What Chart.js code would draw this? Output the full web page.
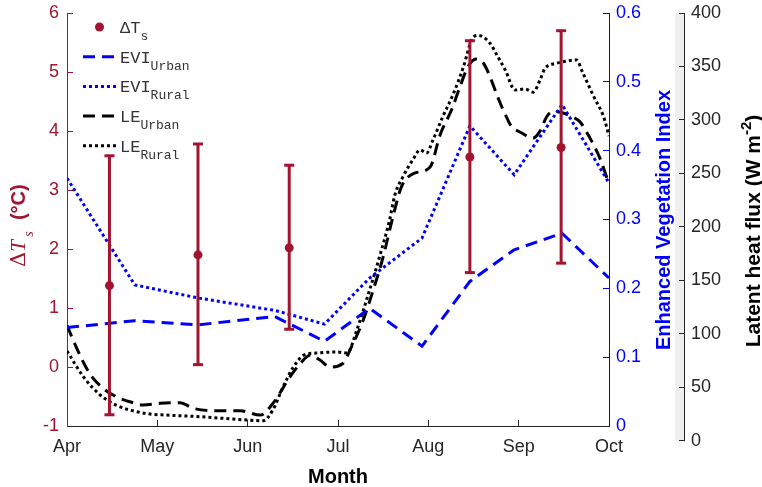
<!DOCTYPE html>
<html>
<head>
<meta charset="utf-8">
<script src="https://cdn.jsdelivr.net/npm/chart.js@4.4.1/dist/chart.umd.min.js"></script>
<style>
  html, body { margin: 0; padding: 0; background: #fff; }
  canvas { display: block; }
</style>
</head>
<body>
<canvas id="chart" width="762" height="487"></canvas>
<script>
// ---- data (x in months since 1 Apr) ----
const MONTHS = ['Apr', 'May', 'Jun', 'Jul', 'Aug', 'Sep', 'Oct'];

// surface temperature difference, mean and error range (°C)
const DT_X    = [0.47, 1.45, 2.46, 4.46, 5.47];
const DT_MEAN = [1.38, 1.90, 2.02, 3.56, 3.72];
const DT_LOW  = [-0.81, 0.04, 0.64, 1.60, 1.76];
const DT_HIGH = [3.58, 3.78, 3.42, 5.53, 5.70];

// enhanced vegetation index
const EVI_X     = [0, 0.75, 1.45, 2.3, 2.85, 3.35, 3.93, 4.46, 4.95, 5.48, 6];
const EVI_URBAN = [0.143, 0.153, 0.147, 0.159, 0.123, 0.171, 0.116, 0.21, 0.256, 0.28, 0.215];
const EVI_RURAL = [0.36, 0.205, 0.186, 0.168, 0.148, 0.215, 0.273, 0.436, 0.365, 0.467, 0.353];

// latent heat flux (W m-2)
const LE_URBAN_X = [0, 0.10, 0.25, 0.40, 0.55, 0.73, 0.84, 1.03, 1.25, 1.40, 1.66, 1.92, 2.14, 2.28, 2.47,
  2.58, 2.69, 2.80, 2.91, 3.05, 3.15, 3.28, 3.39, 3.50, 3.61, 3.70, 3.84, 4.02, 4.13, 4.26,
  4.35, 4.44, 4.53, 4.61, 4.68, 4.77, 4.88, 4.92, 5.03, 5.16, 5.24, 5.31, 5.38, 5.51, 5.59,
  5.68, 5.79, 5.90, 6.0];
const LE_URBAN = [108, 88, 63, 49, 41, 35.6, 33.4, 35, 35.6, 30.3, 28, 28, 24, 35, 60,
  72, 80, 75.5, 69, 72, 88, 113, 141, 172, 210, 237, 250, 256, 286, 310,
  331, 350, 357, 353, 341, 321, 300, 294, 288, 283, 290, 303, 308, 306, 303,
  298, 283, 264, 240];
const LE_RURAL_X = [0, 0.18, 0.365, 0.55, 0.73, 0.92, 1.10, 1.47, 1.84, 2.17, 2.28, 2.39, 2.50, 2.62, 2.76,
  2.99, 3.10, 3.21, 3.35, 3.46, 3.57, 3.63, 3.72, 3.83, 3.91, 3.98, 4.05, 4.16, 4.28, 4.39,
  4.48, 4.55, 4.68, 4.77, 4.85, 4.96, 5.07, 5.16, 5.24, 5.29, 5.42, 5.53, 5.64, 5.71, 5.83,
  5.94, 6.0];
const LE_RURAL = [84, 60, 43, 33, 28, 25, 24, 22.5, 20.3, 18.7, 29, 50, 68, 80, 82,
  83, 82, 104, 141, 172, 206, 230, 247, 263, 272, 269, 281, 303, 325, 350,
  375, 379, 372, 359, 347, 328, 329, 326, 338, 348, 353, 355, 356, 344, 322,
  303, 285];

const DT_TICKS  = [-1, 0, 1, 2, 3, 4, 5, 6];
const EVI_TICKS = [0, 0.1, 0.2, 0.3, 0.4, 0.5, 0.6];
const LE_TICKS  = [0, 50, 100, 150, 200, 250, 300, 350, 400];
const LE_AXIS_MIN = 13.8; // LE axis runs on below the plot box down to 0

const RED = '#A2142F';
const BLUE = '#0000FF';
const INK = '#262626';
const SANS = "'Liberation Sans', Arial, Helvetica, sans-serif";
const MONO = "'Liberation Mono', 'Courier New', monospace";

Chart.defaults.font.family = SANS;
Chart.defaults.font.size = 18;

const pts = (xs, ys) => xs.map((x, i) => ({ x, y: ys[i] }));

// ---- datasets ----
const errorBars = DT_X.map((x, i) => ({
  type: 'line', yAxisID: 'yT', order: 0,
  data: [{ x, y: DT_LOW[i] }, { x, y: DT_HIGH[i] }],
  borderColor: RED, borderWidth: 3, pointRadius: 0
}));

const datasets = [
  ...errorBars,
  { type: 'scatter', label: 'caps', yAxisID: 'yT', order: 0,
    data: [...pts(DT_X, DT_LOW), ...pts(DT_X, DT_HIGH)],
    pointStyle: 'line', pointRadius: 5, borderColor: RED, borderWidth: 3 },
  { type: 'scatter', label: 'dT', yAxisID: 'yT', order: 0,
    data: pts(DT_X, DT_MEAN),
    pointStyle: 'circle', pointRadius: 4.5, backgroundColor: RED, borderWidth: 0 },
  { type: 'line', label: 'EVI_Urban', yAxisID: 'yEVI', order: 1,
    data: pts(EVI_X, EVI_URBAN),
    borderColor: BLUE, borderWidth: 3, borderDash: [12, 7], pointRadius: 0, tension: 0 },
  { type: 'line', label: 'EVI_Rural', yAxisID: 'yEVI', order: 1,
    data: pts(EVI_X, EVI_RURAL),
    borderColor: BLUE, borderWidth: 3, borderDash: [3, 3], pointRadius: 0, tension: 0 },
  { type: 'line', label: 'LE_Urban', yAxisID: 'yLE', order: 1,
    data: pts(LE_URBAN_X, LE_URBAN),
    borderColor: '#000', borderWidth: 3, borderDash: [12, 7], pointRadius: 0, cubicInterpolationMode: 'monotone' },
  { type: 'line', label: 'LE_Rural', yAxisID: 'yLE', order: 1,
    data: pts(LE_RURAL_X, LE_RURAL),
    borderColor: '#000', borderWidth: 3, borderDash: [3, 3], pointRadius: 0, cubicInterpolationMode: 'monotone' }
];

// ---- drawing helpers ----
function richText(ctx, parts, x, y, rot, align) {
  ctx.save();
  ctx.translate(x, y);
  ctx.rotate(rot);
  ctx.textBaseline = 'alphabetic';
  ctx.textAlign = 'left';
  let total = 0;
  parts.forEach(p => { ctx.font = p.font; p.w = ctx.measureText(p.text).width; total += p.w; });
  let cx = align === 'center' ? -total / 2 : 0;
  parts.forEach(p => {
    ctx.font = p.font;
    ctx.fillStyle = p.color;
    ctx.fillText(p.text, cx, p.dy || 0);
    cx += p.w;
  });
  ctx.restore();
}

// no extra room for half tick labels: the plot box is set by the layout padding
const noPad = s => { s.paddingTop = 0; s.paddingBottom = 0; s.paddingLeft = 0; s.paddingRight = 0; };

const decor = {
  id: 'decor',
  beforeDraw(chart) {
    const { ctx } = chart;
    const le = chart.scales.yLE;
    const top = le.getPixelForValue(LE_TICKS[LE_TICKS.length - 1]);
    const bot = le.getPixelForValue(LE_TICKS[0]);
    ctx.save();
    ctx.fillStyle = '#efefef';
    ctx.fillRect(le.left - 9, top, 9, bot - top);
    ctx.strokeStyle = INK;
    ctx.lineWidth = 1;
    ctx.beginPath();
    ctx.moveTo(le.left + 0.5, top);
    ctx.lineTo(le.left + 0.5, bot + 0.5);
    ctx.stroke();
    ctx.restore();
  },
  afterDraw(chart) {
    const { ctx, chartArea: ca } = chart;
    const evi = chart.scales.yEVI;
    const le = chart.scales.yLE;

    // axis titles
    richText(ctx, [{ text: 'Month', font: `bold 20px ${SANS}`, color: '#000' }],
      (ca.left + ca.right) / 2, 483, 0, 'center');
    richText(ctx, [
      { text: 'Δ', font: `21px 'DejaVu Serif', serif`, color: RED },
      { text: 'T', font: `italic 21px 'Liberation Serif', serif`, color: RED },
      { text: ' s', font: `italic 14px 'Liberation Serif', serif`, color: RED, dy: 8 },
      { text: '  (°C)', font: `bold 20px ${SANS}`, color: RED }
    ], 25, 267, -Math.PI / 2, 'left');
    richText(ctx, [{ text: 'Enhanced Vegetation Index', font: `bold 20px ${SANS}`, color: BLUE }],
      evi.left + 61, 220, -Math.PI / 2, 'center');
    richText(ctx, [
      { text: 'Latent heat flux (W m', font: `bold 21px ${SANS}`, color: '#000' },
      { text: '-2', font: `bold 15px ${SANS}`, color: '#000', dy: -9 },
      { text: ')', font: `bold 21px ${SANS}`, color: '#000' }
    ], le.left + 76, 231, -Math.PI / 2, 'center');

    // legend
    const x0 = ca.left + 16, x1 = ca.left + 49, tx = ca.left + 53;
    const rows = [
      { ds: 'dT', main: 'ΔT', sub: 's' },
      { ds: 'EVI_Urban', main: 'EVI', sub: 'Urban' },
      { ds: 'EVI_Rural', main: 'EVI', sub: 'Rural' },
      { ds: 'LE_Urban', main: 'LE', sub: 'Urban' },
      { ds: 'LE_Rural', main: 'LE', sub: 'Rural' }
    ];
    rows.forEach((r, i) => {
      const y = ca.top + 14 + i * 29.7;
      const ds = chart.data.datasets.find(d => d.label === r.ds);
      ctx.save();
      if (ds.type === 'scatter') {
        ctx.fillStyle = ds.backgroundColor;
        ctx.beginPath();
        ctx.arc((x0 + x1) / 2, y, 4.5, 0, Math.PI * 2);
        ctx.fill();
      } else {
        ctx.strokeStyle = ds.borderColor;
        ctx.lineWidth = ds.borderWidth;
        ctx.setLineDash(ds.borderDash);
        ctx.beginPath();
        ctx.moveTo(x0, y);
        ctx.lineTo(x1, y);
        ctx.stroke();
      }
      ctx.restore();
      richText(ctx, [
        { text: r.main, font: `17px ${MONO}`, color: '#333' },
        { text: r.sub, font: `13px ${MONO}`, color: '#333', dy: 7 }
      ], tx, y + 6, 0, 'left');
    });
  }
};

new Chart(document.getElementById('chart'), {
  data: { datasets },
  options: {
    responsive: false,
    animation: false,
    layout: { padding: { top: 13, left: 0, right: 0, bottom: 0 } },
    plugins: { legend: { display: false }, tooltip: { enabled: false } },
    scales: {
      x: {
        type: 'linear', position: 'bottom', min: 0, max: MONTHS.length - 1,
        afterBuildTicks: s => { s.ticks = MONTHS.map((m, i) => ({ value: i })); },
        afterFit: s => { s.height = 61; noPad(s); },
        ticks: { callback: v => MONTHS[v], color: INK, padding: 16, maxRotation: 0, autoSkip: false },
        grid: { drawOnChartArea: false, tickLength: -6, color: INK },
        border: { color: INK, width: 1 }
      },
      yT: {
        type: 'linear', position: 'left', min: -1, max: 6,
        afterBuildTicks: s => { s.ticks = DT_TICKS.map(v => ({ value: v })); },
        afterFit: s => { s.width = 67; noPad(s); },
        ticks: { color: RED, padding: 14 },
        grid: { drawOnChartArea: false, tickLength: -6, color: RED },
        border: { color: RED, width: 1 }
      },
      yEVI: {
        type: 'linear', position: 'right', weight: 0, min: 0, max: 0.6,
        afterBuildTicks: s => { s.ticks = EVI_TICKS.map(v => ({ value: v })); },
        afterFit: s => { s.width = 75; noPad(s); },
        ticks: { color: BLUE, padding: 13, callback: v => (v === 0 ? '0' : v.toFixed(1)) },
        grid: { drawOnChartArea: false, tickLength: -6, color: BLUE },
        border: { color: BLUE, width: 1 }
      },
      yLE: {
        type: 'linear', position: 'right', weight: 1, min: LE_AXIS_MIN, max: 400,
        afterBuildTicks: s => { s.ticks = LE_TICKS.map(v => ({ value: v })); },
        afterFit: s => { s.width = 78; noPad(s); },
        ticks: { color: INK, padding: 12 },
        grid: { drawOnChartArea: false, tickLength: -5, color: INK },
        border: { display: false }
      }
    }
  },
  plugins: [decor]
});
</script>
</body>
</html>
